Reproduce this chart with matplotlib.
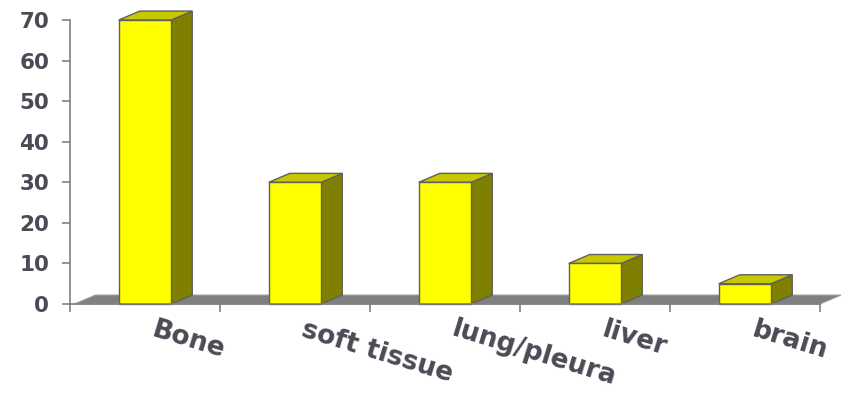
import matplotlib
matplotlib.use("Agg")
import matplotlib.pyplot as plt
from matplotlib.patches import Polygon

# data
sites = ["Bone", "soft tissue", "lung/pleura", "liver", "brain"]
counts = [70, 30, 30, 10, 5]
yticks = [0, 10, 20, 30, 40, 50, 60, 70]

front_col = "#FFFF00"
side_col = "#808000"
top_col = "#C8C800"
edge_col = "#606060"
text_col = "#4b4b55"

fig = plt.figure(figsize=(8.52, 4.0), dpi=100)
ax = fig.add_axes([70/852, 96/400, 750/852, 284/400])
ax.set_xlim(0, len(sites))
ax.set_ylim(0, 70)

# depth of the fake 3d (data units)
dx = 0.14
dy = 2.2
w = 0.35

# floor
floor = Polygon([(0.03, 0), (len(sites), 0), (len(sites) + dx, dy), (0.03 + dx, dy)],
                closed=True, facecolor="#808080", edgecolor="#9a9a9a",
                lw=0.8, zorder=1, clip_on=False)
ax.add_patch(floor)

centers = [i + 0.5 for i in range(len(sites))]
for c, v in zip(centers, counts):
    l = c - w/2
    r = c + w/2
    side = Polygon([(r, 0), (r + dx, dy), (r + dx, v + dy), (r, v)],
                   closed=True, facecolor=side_col, edgecolor=edge_col,
                   lw=1, zorder=2, clip_on=False)
    top = Polygon([(l, v), (r, v), (r + dx, v + dy), (l + dx, v + dy)],
                  closed=True, facecolor=top_col, edgecolor=edge_col,
                  lw=1, zorder=2, clip_on=False)
    ax.add_patch(side)
    ax.add_patch(top)
ax.bar(centers, counts, width=w, color=front_col, edgecolor=edge_col,
       lw=1, zorder=3, clip_on=False)

# axes look
for s in ["top", "right"]:
    ax.spines[s].set_visible(False)
for s in ["left", "bottom"]:
    ax.spines[s].set_color("#808080")
    ax.spines[s].set_linewidth(1.2)
ax.spines["bottom"].set_zorder(4)

ax.set_yticks(yticks)
ax.set_yticklabels([str(t) for t in yticks], fontsize=15.5, fontweight="bold",
                   color=text_col)
ax.tick_params(axis="y", length=6, width=1.2, color="#808080", pad=9)
ax.set_xticks(range(len(sites) + 1))
ax.set_xticklabels([])
ax.tick_params(axis="x", length=6, width=1.2, color="#808080")

for c, name in zip(centers, sites):
    ax.annotate(name, xy=(c, 0), xytext=(8, -9), textcoords="offset points",
                rotation=-17, rotation_mode="anchor", ha="left", va="top",
                fontsize=19, fontweight="bold", color=text_col,
                annotation_clip=False)

fig.savefig("out.png", dpi=100)
